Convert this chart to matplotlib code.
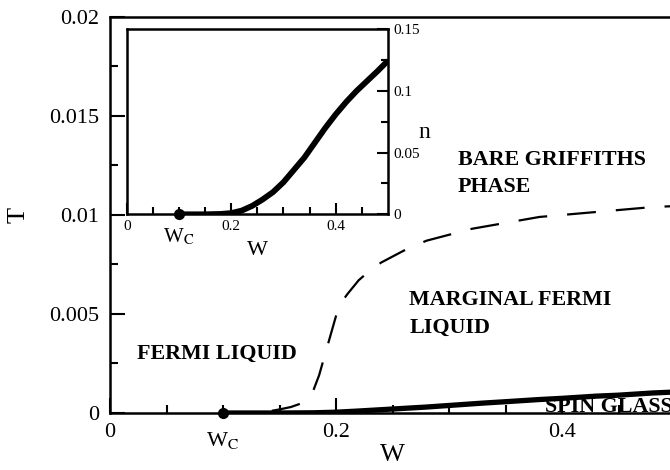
import matplotlib
matplotlib.use("Agg")
import matplotlib.pyplot as plt
from matplotlib.ticker import FixedLocator

plt.rcParams['font.family'] = ['Liberation Serif', 'DejaVu Serif']
plt.rcParams['mathtext.fontset'] = 'stix'

# datos
w_crit = 0.1

# frontera spin glass (linea gruesa)
w_sg = [0.10, 0.15, 0.18, 0.20, 0.22, 0.25, 0.28, 0.30, 0.33, 0.35, 0.38, 0.40, 0.43, 0.45, 0.48, 0.50]
t_sg = [0.0, 0.0, 0.00001, 0.00004, 0.0001, 0.0002, 0.0003, 0.00038, 0.0005, 0.00057, 0.00068, 0.00074, 0.00085, 0.0009, 0.00101, 0.00106]

# crossover marginal fermi liquid (linea discontinua)
w_mfl = [0.10, 0.12, 0.14, 0.15, 0.16, 0.17, 0.175, 0.18, 0.185, 0.19, 0.195, 0.20, 0.205, 0.21,
         0.22, 0.23, 0.24, 0.26, 0.28, 0.30, 0.32, 0.34, 0.36, 0.38, 0.40, 0.42, 0.44, 0.46, 0.48, 0.50]
t_mfl = [0.0, 0.00001, 0.00008, 0.00018, 0.0003, 0.0005, 0.0008, 0.00115, 0.0019, 0.0029, 0.0039, 0.0049,
         0.0056, 0.0060, 0.0067, 0.0072, 0.0076, 0.0082, 0.0087, 0.0090, 0.0093, 0.0095, 0.0097, 0.0099,
         0.0100, 0.0101, 0.0102, 0.0103, 0.0104, 0.01045]

# recuadro: n(W)
w_n = [0.10, 0.15, 0.18, 0.20, 0.22, 0.24, 0.26, 0.28, 0.30, 0.32, 0.34, 0.36, 0.38, 0.40, 0.42,
       0.44, 0.46, 0.48, 0.50]
n_val = [0.0, 0.0, 0.0003, 0.001, 0.003, 0.0068, 0.012, 0.018, 0.026, 0.036, 0.046, 0.058, 0.070, 0.081,
         0.091, 0.100, 0.108, 0.116, 0.1245]

x_ticks = [0, 0.2, 0.4]
x_labels = ['0', '0.2', '0.4']
x_minor = [0.05, 0.1, 0.15, 0.25, 0.3, 0.35, 0.45]
t_ticks = [0, 0.005, 0.01, 0.015, 0.02]
t_labels = ['0', '0.005', '0.01', '0.015', '0.02']
t_minor = [0.0025, 0.0075, 0.0125, 0.0175]
n_ticks = [0, 0.05, 0.1, 0.15]
n_labels = ['0', '0.05', '0.1', '0.15']
n_minor = [0.025, 0.075, 0.125]

regiones = ["FERMI LIQUID", "MARGINAL FERMI\nLIQUID", "BARE GRIFFITHS\nPHASE", "SPIN GLASS"]
pos_regiones = [(0.024, 0.0030), (0.265, 0.0050), (0.308, 0.0121), (0.385, 0.0003)]

fig = plt.figure(figsize=(6.7, 4.7), dpi=100)
ax = fig.add_axes([0.1642, 0.1213, 0.8433, 0.8426])

ax.plot(w_mfl, t_mfl, color='black', lw=1.6, linestyle=(0, (13, 9)))
ax.plot(w_sg, t_sg, color='black', lw=3.8, solid_capstyle='butt')
ax.plot([w_crit], [0], 'o', color='black', ms=7, clip_on=False, zorder=5)

ax.set_xlim(0, 0.5)
ax.set_ylim(0, 0.02)
ax.xaxis.set_major_locator(FixedLocator(x_ticks))
ax.xaxis.set_minor_locator(FixedLocator(x_minor))
ax.yaxis.set_major_locator(FixedLocator(t_ticks))
ax.yaxis.set_minor_locator(FixedLocator(t_minor))
ax.set_xticklabels(x_labels)
ax.set_yticklabels(t_labels)
ax.tick_params(which='both', direction='in', top=False, right=False, width=1.5, labelsize=16)
ax.tick_params(which='major', length=11, pad=7)
ax.tick_params(which='minor', length=6)
ax.tick_params(axis='y', pad=8)
for s in ax.spines.values():
    s.set_linewidth(1.8)

ax.text(w_crit, -0.0014, r"W$_{\rm C}$", ha='center', va='center', fontsize=16)
ax.set_xlabel("W", fontsize=19, labelpad=2)
ax.set_ylabel("T", fontsize=19, labelpad=14)

for txt, (x, y) in zip(regiones, pos_regiones):
    ax.text(x, y, txt, fontsize=15.8, fontweight='bold', ha='left', va='center',
            linespacing=1.5)

# recuadro
axi = fig.add_axes([0.1891, 0.544, 0.390, 0.394])
axi.plot(w_n, n_val, color='black', lw=4.2, solid_capstyle='butt')
axi.plot([w_crit], [0], 'o', color='black', ms=7, clip_on=False, zorder=5)
axi.set_xlim(0, 0.5)
axi.set_ylim(0, 0.15)
axi.xaxis.set_major_locator(FixedLocator(x_ticks))
axi.xaxis.set_minor_locator(FixedLocator(x_minor))
axi.yaxis.set_major_locator(FixedLocator(n_ticks))
axi.yaxis.set_minor_locator(FixedLocator(n_minor))
axi.set_xticklabels(x_labels)
axi.set_yticklabels(n_labels)
axi.yaxis.tick_right()
axi.tick_params(which='both', direction='in', top=False, left=False, right=True, width=1.5, labelsize=11)
axi.tick_params(which='major', length=8, pad=4)
axi.tick_params(which='minor', length=5)
for s in axi.spines.values():
    s.set_linewidth(1.8)
axi.text(w_crit, -0.018, r"W$_{\rm C}$", ha='center', va='center', fontsize=15)
axi.set_xlabel("W", fontsize=16, labelpad=6)
axi.yaxis.set_label_position('right')
axi.set_ylabel("n", fontsize=17, rotation=0)
axi.yaxis.set_label_coords(1.14, 0.50)

fig.savefig("out.png", dpi=100)
